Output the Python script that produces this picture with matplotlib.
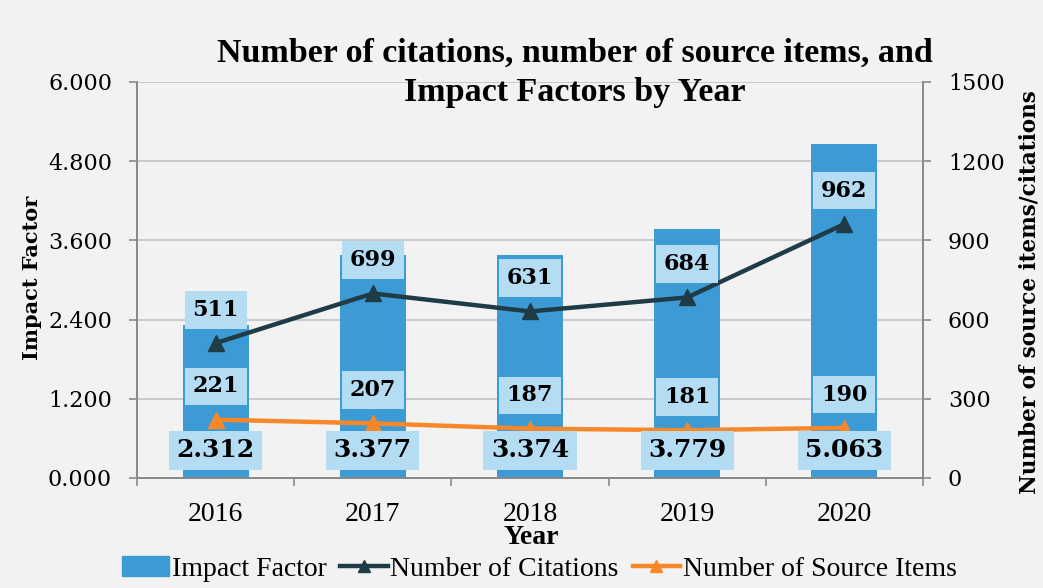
import matplotlib
matplotlib.use("Agg")
import matplotlib.pyplot as plt
import numpy as np
from matplotlib.patches import Patch
from matplotlib.lines import Line2D
from matplotlib.ticker import FormatStrFormatter

years = ["2016", "2017", "2018", "2019", "2020"]
impact_factor = [2.312, 3.377, 3.374, 3.779, 5.063]
citations = [511, 699, 631, 684, 962]
source_items = [221, 207, 187, 181, 190]

BG = "#F2F2F2"
BAR = "#3C9AD5"
BOX = "#B4DCF3"
CIT = "#1F3B45"
SRC = "#F7882A"
SERIF = ["DejaVu Serif"]
TIMES = ["Liberation Serif", "DejaVu Serif"]

fig = plt.figure(figsize=(10.43, 5.88), dpi=100, facecolor=BG)
ax = fig.add_axes([137/1043, 1-478/588, (923-137)/1043, (478-82)/588])
ax.set_facecolor(BG)
x = np.arange(len(years))

ax.bar(x, impact_factor, width=0.42, color=BAR, zorder=2)
ax.set_xlim(-0.5, 4.5)
ax.set_ylim(0, 6)
ax.set_yticks(np.arange(0, 6.01, 1.2))
ax.yaxis.set_major_formatter(FormatStrFormatter("%.3f"))
ax.grid(axis="y", color="#C6C6C6", lw=1.3, zorder=0)
ax.set_axisbelow(True)
ax.set_xticks(x)
ax.set_xticklabels(years, family=TIMES, fontsize=20)
ax.set_xticks(np.arange(-0.5, 4.6, 1), minor=True)
ax.tick_params(axis="x", which="major", length=0, pad=17)
ax.tick_params(axis="x", which="minor", length=6, color="#8A8A8A", width=1.2)
ax.tick_params(axis="y", length=6, color="#8A8A8A", width=1.2, pad=12)
for lab in ax.get_yticklabels():
    lab.set_family(SERIF)
    lab.set_fontsize(16)
ax.spines["top"].set_visible(False)
for s in ["left", "right", "bottom"]:
    ax.spines[s].set_color("#8A8A8A")
    ax.spines[s].set_linewidth(1.3)

ax2 = ax.twinx()
ax2.set_ylim(0, 1500)
ax2.set_yticks(np.arange(0, 1501, 300))
ax2.tick_params(axis="y", length=6, color="#8A8A8A", width=1.2, pad=12)
for lab in ax2.get_yticklabels():
    lab.set_family(SERIF)
    lab.set_fontsize(16)
ax2.spines["top"].set_visible(False)
for s in ["left", "right", "bottom"]:
    ax2.spines[s].set_color("#8A8A8A")
    ax2.spines[s].set_linewidth(1.3)

ax2.plot(x, citations, color=CIT, lw=3.2, marker="^", ms=11, zorder=3)
ax2.plot(x, source_items, color=SRC, lw=3.2, marker="^", ms=11, zorder=3)

for i in range(len(years)):
    ax2.annotate(f"{impact_factor[i]:.3f}", (x[i], 0), xytext=(0, 20),
                 textcoords="offset points", ha="center", va="center",
                 fontsize=18, fontweight="bold", family=SERIF, zorder=5,
                 bbox=dict(boxstyle="square,pad=0.3", fc=BOX, ec="none"))
    ax2.annotate(f"{citations[i]}", (x[i], citations[i]), xytext=(0, 24),
                 textcoords="offset points", ha="center", va="center",
                 fontsize=16, fontweight="bold", family=SERIF, zorder=5,
                 bbox=dict(boxstyle="square,pad=0.35", fc=BOX, ec="none"))
    ax2.annotate(f"{source_items[i]}", (x[i], source_items[i]), xytext=(0, 24),
                 textcoords="offset points", ha="center", va="center",
                 fontsize=16, fontweight="bold", family=SERIF, zorder=5,
                 bbox=dict(boxstyle="square,pad=0.35", fc=BOX, ec="none"))

fig.text(575/1043, 1-53/588, "Number of citations, number of source items, and",
         ha="center", va="center", fontsize=24.5, fontweight="bold", family=TIMES)
fig.text(575/1043, 1-92/588, "Impact Factors by Year",
         ha="center", va="center", fontsize=24.5, fontweight="bold", family=TIMES)
fig.text(531/1043, 1-538/588, "Year", ha="center", va="center",
         fontsize=20, fontweight="bold", family=TIMES)
fig.text(32/1043, 1-278/588, "Impact Factor", ha="center", va="center",
         rotation=90, fontsize=15, fontweight="bold", family=SERIF)
fig.text(1030/1043, 1-292/588, "Number of source items/citations", ha="center",
         va="center", rotation=90, fontsize=15.5, fontweight="bold", family=SERIF)

handles = [Patch(color=BAR),
           Line2D([], [], color=CIT, lw=3.2, marker="^", ms=9),
           Line2D([], [], color=SRC, lw=3.2, marker="^", ms=9)]
labels = ["Impact Factor", "Number of Citations", "Number of Source Items"]
fig.legend(handles, labels, loc="center", bbox_to_anchor=(539/1043, 1-569/588),
           ncol=3, frameon=False, prop=dict(family=TIMES, size=20),
           handlelength=1.7, handletextpad=0.1, columnspacing=0.5)

fig.savefig("out.png", dpi=100, facecolor=BG)
